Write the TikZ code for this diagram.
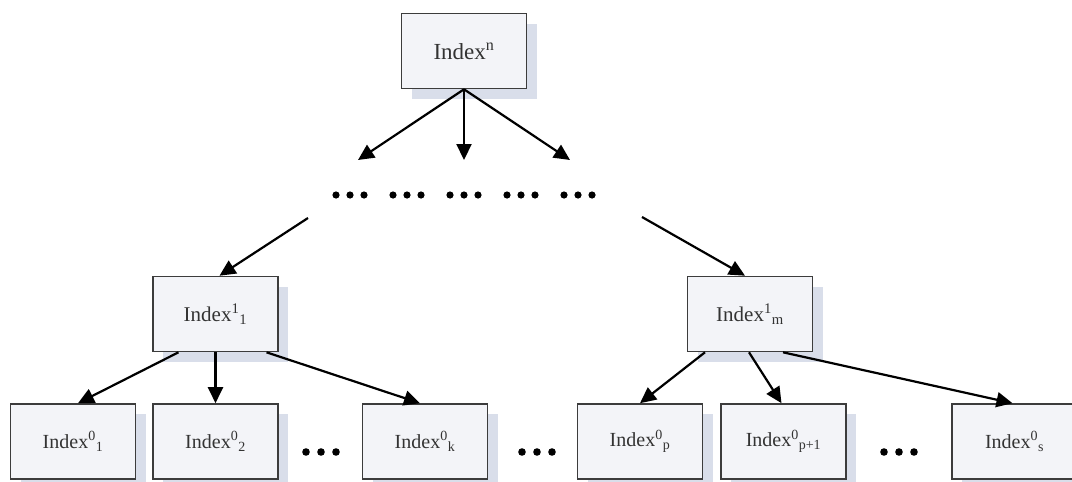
\documentclass[tikz,border=0pt]{standalone}
\usepackage{fontspec}
\setmainfont{Liberation Serif}
\usetikzlibrary{arrows.meta,shadows,calc}
\definecolor{boxline}{HTML}{3C3C3C}
\definecolor{boxfill}{HTML}{F3F4F8}
\definecolor{shadowc}{HTML}{D9DEEA}
\definecolor{textc}{HTML}{333333}
\tikzset{
  idx/.style={draw=boxline, line width=1.6pt, fill=boxfill,
    minimum width=125, minimum height=75, inner sep=0pt,
    text=textc, font=\fontsize{20}{24}\selectfont,
    drop shadow={shadow xshift=10pt, shadow yshift=-10pt, fill=shadowc, opacity=1}},
  arr/.style={line width=2.2pt, -{Triangle[length=16pt,width=15pt]}},
  dotc/.style={fill=black},
}
\newcommand{\threedots}[2]{%
  \foreach \dx in {-15,0,15} \fill[dotc] ($(#1)+(\dx+#2,0)$) circle (3.8);}
\begin{document}
\begin{tikzpicture}[x=1pt,y=-1pt]
\useasboundingbox (0,0) rectangle (1072,482);
\clip (0,0) rectangle (1072,482);
\fill[white] (0,0) rectangle (1072,482);

% top level
\node[idx, font=\fontsize{23}{27}\selectfont] (top) at (464,51) {Index\textsuperscript{n}};
\coordinate (c1) at (358,160);
\coordinate (c2) at (464,160);
\coordinate (c3) at (570,160);
\draw[arr] (top.south) -- (c1);
\draw[arr] (top.south) -- (c2);
\draw[arr] (top.south) -- (c3);

% row of ellipses between the levels
\coordinate (row) at (464,195);
\foreach \gx in {-114,-57,0,57,114} {
  \foreach \dx in {-14,0,14} \fill[dotc] ($(row)+(\gx+\dx,0)$) circle (3.6);
}
\coordinate (d1) at (308,218);
\coordinate (d2) at (642,217);

% level one
\node[idx, font=\fontsize{21}{25}\selectfont] (l1a) at (215.5,314) {Index\textsuperscript{1}\textsubscript{1}};
\node[idx, font=\fontsize{21}{25}\selectfont] (l1m) at (750,314) {Index\textsuperscript{1}\textsubscript{m}};
\draw[arr] (d1) -- ($(l1a.north)+(4,0)$);
\draw[arr] (d2) -- ($(l1m.north)+(-5,0)$);

% level zero
\node[idx] (b1) at (73,441.5) {Index\textsuperscript{0}\textsubscript{1}};
\node[idx] (b2) at (215.5,441.5) {Index\textsuperscript{0}\textsubscript{2}};
\node[idx] (bk) at (425,441.5) {Index\textsuperscript{0}\textsubscript{k}};
\node[idx] (bp) at (640,441.5) {Index\textsuperscript{0}\textsubscript{p}};
\node[idx] (bq) at (783.5,441.5) {Index\textsuperscript{0}\textsubscript{p+1}};
\node[idx] (bs) at (1014.5,441.5) {Index\textsuperscript{0}\textsubscript{s}};

\draw[arr] ($(l1a.south)+(-37,0)$) -- ($(b1.north)+(5,0)$);
\draw[arr] (l1a.south) -- (b2.north);
\draw[arr] ($(l1a.south)+(51,0)$) -- ($(bk.north)+(-5,0)$);
\draw[arr] ($(l1m.south)+(-45,0)$) -- (bp.north);
\draw[arr] ($(l1m.south)+(-1,0)$) -- ($(bq.north)+(-2,0)$);
\draw[arr] ($(l1m.south)+(33,0)$) -- ($(bs.north)+(-2,0)$);

% ellipses between the leaf boxes
\coordinate (e1) at (321,452);
\coordinate (e2) at (537,452);
\coordinate (e3) at (899,452);
\threedots{e1}{0}
\threedots{e2}{0}
\threedots{e3}{0}
\end{tikzpicture}
\end{document}
